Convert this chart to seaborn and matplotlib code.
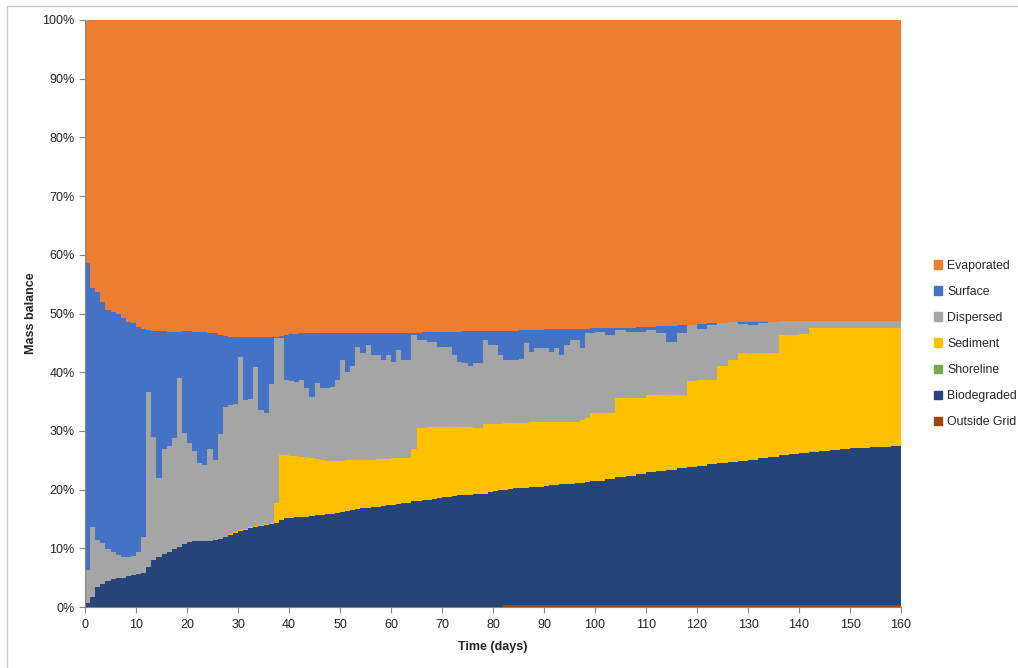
import matplotlib
matplotlib.use("Agg")
import matplotlib.pyplot as plt
import matplotlib.patches as mpatches
from matplotlib.ticker import MultipleLocator, PercentFormatter
import numpy as np
import seaborn as sns

# sample times (days): daily to day 100, then every 2 days
days = [
    0, 1, 2, 3, 4, 5, 6, 7, 8, 9,
    10, 11, 12, 13, 14, 15, 16, 17, 18, 19,
    20, 21, 22, 23, 24, 25, 26, 27, 28, 29,
    30, 31, 32, 33, 34, 35, 36, 37, 38, 39,
    40, 41, 42, 43, 44, 45, 46, 47, 48, 49,
    50, 51, 52, 53, 54, 55, 56, 57, 58, 59,
    60, 61, 62, 63, 64, 65, 66, 67, 68, 69,
    70, 71, 72, 73, 74, 75, 76, 77, 78, 79,
    80, 81, 82, 83, 84, 85, 86, 87, 88, 89,
    90, 91, 92, 93, 94, 95, 96, 97, 98, 99,
    100,
    102, 104, 106, 108, 110, 112, 114, 116, 118, 120,
    122, 124, 126, 128, 130, 132, 134, 136, 138, 140,
    142, 144, 146, 148, 150, 152, 154, 156, 158, 160,
]

# mass balance components (%), bottom to top of the stack
outside_grid = [
    0.0, 0.0, 0.0, 0.0, 0.0, 0.0, 0.0, 0.0, 0.0, 0.0,
    0.0, 0.0, 0.0, 0.0, 0.0, 0.0, 0.0, 0.0, 0.0, 0.0,
    0.0, 0.0, 0.0, 0.0, 0.0, 0.0, 0.0, 0.0, 0.0, 0.0,
    0.0, 0.0, 0.0, 0.0, 0.0, 0.0, 0.0, 0.0, 0.0, 0.0,
    0.0, 0.0, 0.0, 0.0, 0.0, 0.0, 0.0, 0.0, 0.0, 0.0,
    0.0, 0.0, 0.0, 0.0, 0.0, 0.0, 0.0, 0.0, 0.0, 0.0,
    0.0, 0.0, 0.0, 0.0, 0.0, 0.0, 0.0, 0.0, 0.0, 0.0,
    0.0, 0.0, 0.0, 0.0, 0.0, 0.0, 0.0, 0.0, 0.0, 0.0,
    0.0, 0.0, 0.3, 0.3, 0.3, 0.3, 0.3, 0.3, 0.3, 0.3,
    0.3, 0.3, 0.3, 0.3, 0.3, 0.3, 0.3, 0.3, 0.3, 0.3,
    0.3,
    0.3, 0.3, 0.3, 0.3, 0.3, 0.3, 0.3, 0.3, 0.3, 0.3,
    0.3, 0.3, 0.3, 0.3, 0.3, 0.3, 0.3, 0.3, 0.3, 0.3,
    0.3, 0.3, 0.3, 0.3, 0.3, 0.3, 0.3, 0.3, 0.3, 0.3,
]

biodegraded = [
    0.7, 1.7, 3.4, 4.0, 4.4, 4.7, 4.9, 5.0, 5.2, 5.4,
    5.6, 5.8, 6.8, 8.0, 8.6, 9.0, 9.4, 9.8, 10.3, 10.8,
    11.0, 11.2, 11.3, 11.3, 11.3, 11.4, 11.6, 11.9, 12.3, 12.6,
    12.9, 13.1, 13.4, 13.6, 13.8, 14.0, 14.1, 14.3, 14.8, 15.1,
    15.2, 15.3, 15.3, 15.4, 15.5, 15.6, 15.7, 15.8, 15.9, 16.0,
    16.1, 16.3, 16.5, 16.7, 16.8, 16.9, 17.0, 17.1, 17.2, 17.3,
    17.4, 17.6, 17.7, 17.8, 18.0, 18.1, 18.2, 18.3, 18.4, 18.6,
    18.7, 18.8, 18.9, 19.0, 19.0, 19.1, 19.2, 19.2, 19.3, 19.6,
    19.8, 19.9, 19.7, 19.8, 19.9, 19.9, 20.0, 20.1, 20.2, 20.2,
    20.3, 20.4, 20.5, 20.6, 20.7, 20.7, 20.8, 20.9, 21.0, 21.1,
    21.2,
    21.5, 21.8, 22.1, 22.4, 22.7, 22.9, 23.1, 23.3, 23.6, 23.8,
    24.0, 24.2, 24.4, 24.6, 24.8, 25.0, 25.3, 25.5, 25.7, 25.9,
    26.1, 26.3, 26.4, 26.6, 26.7, 26.8, 26.9, 27.0, 27.1, 27.2,
]

shoreline = [0.0] * len(days)   # nothing reached the shore

sediment = [
    0.0, 0.0, 0.0, 0.0, 0.0, 0.0, 0.0, 0.0, 0.0, 0.0,
    0.0, 0.0, 0.0, 0.0, 0.0, 0.0, 0.0, 0.0, 0.0, 0.0,
    0.0, 0.0, 0.0, 0.0, 0.0, 0.0, 0.0, 0.1, 0.2, 0.2,
    0.2, 0.2, 0.2, 0.2, 0.2, 0.2, 0.2, 3.4, 11.1, 10.8,
    10.6, 10.4, 10.3, 10.1, 9.8, 9.6, 9.3, 9.1, 9.0, 8.9,
    8.8, 8.7, 8.5, 8.3, 8.3, 8.2, 8.1, 8.1, 8.0, 7.9,
    7.9, 7.7, 7.6, 7.6, 9.0, 12.4, 12.3, 12.3, 12.2, 12.1,
    12.0, 11.9, 11.8, 11.7, 11.6, 11.5, 11.3, 11.3, 11.9, 11.6,
    11.4, 11.3, 11.3, 11.3, 11.2, 11.2, 11.1, 11.1, 11.0, 11.0,
    10.9, 10.8, 10.8, 10.7, 10.6, 10.6, 10.5, 10.7, 10.9, 11.6,
    11.5,
    11.2, 13.5, 13.2, 12.9, 13.1, 12.9, 12.7, 12.5, 14.6, 14.5,
    14.4, 16.5, 17.3, 18.3, 18.1, 17.9, 17.6, 20.5, 20.3, 20.3,
    21.0, 20.8, 20.7, 20.5, 20.4, 20.3, 20.2, 20.1, 20.0, 19.9,
]

dispersed = [
    5.6, 11.9, 8.0, 6.9, 5.5, 4.7, 3.9, 3.5, 3.4, 3.3,
    3.7, 6.2, 29.8, 21.0, 13.4, 18.0, 18.1, 19.0, 28.7, 18.8,
    17.0, 15.3, 13.2, 12.9, 15.7, 13.6, 17.9, 22.0, 21.9, 21.8,
    29.5, 22.0, 21.9, 27.1, 19.5, 18.8, 23.7, 28.1, 19.9, 12.8,
    12.7, 12.6, 13.1, 11.8, 10.5, 13.0, 12.3, 12.4, 12.6, 13.8,
    17.2, 15.0, 16.0, 19.3, 18.2, 19.5, 17.8, 17.7, 16.8, 17.8,
    16.4, 18.5, 16.7, 16.6, 19.3, 15.0, 15.0, 14.6, 14.6, 13.6,
    13.6, 13.6, 12.2, 11.1, 10.9, 10.4, 11.0, 11.0, 14.3, 13.4,
    13.4, 11.8, 10.7, 10.6, 10.6, 10.8, 13.6, 12.0, 12.6, 12.6,
    12.6, 12.0, 12.5, 11.4, 13.0, 13.9, 13.9, 12.2, 14.5, 13.7,
    13.8,
    13.3, 11.6, 11.2, 11.2, 11.1, 10.6, 9.1, 10.6, 9.5, 8.7,
    9.3, 7.3, 6.5, 5.0, 4.8, 5.2, 5.4, 2.3, 2.3, 2.1,
    1.2, 1.2, 1.2, 1.2, 1.2, 1.2, 1.2, 1.2, 1.2, 1.2,
]

surface = [
    52.3, 40.7, 42.3, 41.1, 40.7, 40.9, 41.2, 40.7, 40.0, 39.6,
    38.4, 35.3, 10.6, 18.1, 25.0, 20.0, 19.4, 18.1, 7.9, 17.4,
    19.0, 20.4, 22.3, 22.6, 19.7, 21.6, 16.9, 12.2, 11.6, 11.4,
    3.4, 10.7, 10.5, 5.1, 12.5, 13.0, 8.0, 0.2, 0.4, 7.7,
    8.0, 8.2, 7.9, 9.3, 10.8, 8.4, 9.3, 9.3, 9.1, 7.9,
    4.5, 6.6, 5.6, 2.3, 3.3, 2.0, 3.7, 3.7, 4.6, 3.6,
    4.9, 2.9, 4.7, 4.7, 0.4, 1.2, 1.3, 1.6, 1.6, 2.5,
    2.6, 2.6, 4.0, 5.1, 5.5, 6.0, 5.5, 5.5, 1.5, 2.4,
    2.5, 4.1, 5.1, 5.1, 5.1, 5.0, 2.2, 3.7, 3.1, 3.1,
    3.2, 3.8, 3.2, 4.3, 2.7, 1.9, 1.9, 3.3, 0.7, 0.8,
    0.7,
    1.2, 0.4, 0.8, 0.9, 0.5, 1.1, 2.7, 1.3, 0.1, 0.9,
    0.3, 0.1, 0.0, 0.4, 0.6, 0.2, 0.0, 0.0, 0.0, 0.0,
    0.0, 0.0, 0.0, 0.0, 0.0, 0.0, 0.0, 0.0, 0.0, 0.0,
]

evaporated = [
    41.4, 45.7, 46.3, 48.0, 49.4, 49.7, 50.0, 50.8, 51.4, 51.7,
    52.3, 52.7, 52.8, 52.9, 53.0, 53.0, 53.1, 53.1, 53.1, 53.0,
    53.0, 53.1, 53.2, 53.2, 53.3, 53.4, 53.6, 53.8, 54.0, 54.0,
    54.0, 54.0, 54.0, 54.0, 54.0, 54.0, 54.0, 54.0, 53.8, 53.6,
    53.5, 53.5, 53.4, 53.4, 53.4, 53.4, 53.4, 53.4, 53.4, 53.4,
    53.4, 53.4, 53.4, 53.4, 53.4, 53.4, 53.4, 53.4, 53.4, 53.4,
    53.4, 53.3, 53.3, 53.3, 53.3, 53.3, 53.2, 53.2, 53.2, 53.2,
    53.1, 53.1, 53.1, 53.1, 53.0, 53.0, 53.0, 53.0, 53.0, 53.0,
    52.9, 52.9, 52.9, 52.9, 52.9, 52.8, 52.8, 52.8, 52.8, 52.8,
    52.7, 52.7, 52.7, 52.7, 52.7, 52.6, 52.6, 52.6, 52.6, 52.5,
    52.5,
    52.5, 52.4, 52.4, 52.3, 52.3, 52.2, 52.1, 52.0, 51.9, 51.8,
    51.7, 51.6, 51.5, 51.4, 51.4, 51.4, 51.4, 51.3, 51.3, 51.3,
    51.3, 51.3, 51.3, 51.3, 51.3, 51.3, 51.3, 51.3, 51.3, 51.3,
]

# stacking order (bottom -> top) and Excel-style colours
LAYERS = [
    ("Outside Grid", outside_grid, "#9e480e"),
    ("Biodegraded",  biodegraded,  "#264478"),
    ("Shoreline",    shoreline,    "#70ad47"),
    ("Sediment",     sediment,     "#ffc000"),
    ("Dispersed",    dispersed,    "#a5a5a5"),
    ("Surface",      surface,      "#4472c4"),
    ("Evaporated",   evaporated,   "#ed7d31"),
]

sns.set_theme(style="white")
plt.rcParams["font.family"] = ["Liberation Sans", "DejaVu Sans"]

fig = plt.figure(figsize=(10.18, 6.68), dpi=100)
ax = fig.add_axes([85 / 1018, 1 - 607 / 668, (901 - 85) / 1018, (607 - 20) / 668])

# 100% stacked area, drawn as steps
vals = np.array([l[1] for l in LAYERS], dtype=float)
vals = vals / vals.sum(axis=0) * 100
x = np.array(days, dtype=float)
base = np.zeros_like(x)
for (name, _, color), v in zip(LAYERS, vals):
    top = base + v
    ax.fill_between(x, base, top, step="post", color=color, linewidth=0)
    base = top

ax.set_xlim(0, 160)
ax.set_ylim(0, 100)
ax.xaxis.set_major_locator(MultipleLocator(10))
ax.yaxis.set_major_locator(MultipleLocator(10))
ax.yaxis.set_major_formatter(PercentFormatter(decimals=0))
ax.tick_params(axis="both", which="major", length=4, width=0.8,
               color="#868686", labelsize=9, labelcolor="#222222",
               direction="out", bottom=True, left=True)
ax.tick_params(axis="x", pad=5)

sns.despine(ax=ax, top=True, right=True)
for side in ("left", "bottom"):
    ax.spines[side].set_color("#868686")
    ax.spines[side].set_linewidth(0.8)

ax.set_xlabel("Time (days)", fontsize=9, fontweight="bold", labelpad=7)
ax.set_ylabel("Mass balance", fontsize=9, fontweight="bold", labelpad=4)

# legend: top of the stack first
handles = [mpatches.Patch(color=c, label=n) for n, _, c in LAYERS[::-1]]
fig.legend(handles=handles, loc="upper left",
           bbox_to_anchor=(929 / 1018, 1 - 255 / 668),
           frameon=False, fontsize=8.8, labelspacing=1.15,
           handlelength=0.7, handleheight=0.7, handletextpad=0.4,
           borderaxespad=0)

# light outer frame of the chart object
fig.patches.append(mpatches.Rectangle((7 / 1018, -0.1), 1.2, 1.1 - 6 / 668,
                                      transform=fig.transFigure, fill=False,
                                      edgecolor="#c8c8c8", linewidth=1))

fig.savefig("out.png", dpi=100)
